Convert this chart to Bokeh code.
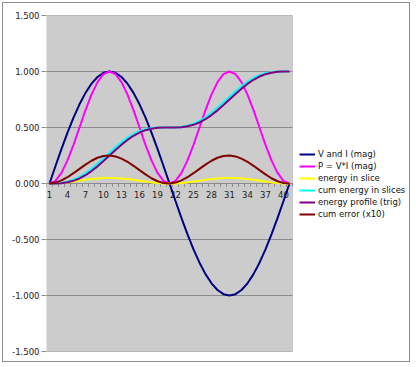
from bokeh.plotting import figure
from bokeh.models import (Legend, LegendItem, FixedTicker, NumeralTickFormatter,
                          ColumnDataSource, BoxAnnotation)
from bokeh.embed import file_html
from bokeh.resources import INLINE
from bokeh.core.properties import value

categories = list(range(1, 42))

v_and_i = [0.000, 0.156, 0.309, 0.454, 0.588, 0.707, 0.809, 0.891, 0.951, 0.988, 1.000,
           0.988, 0.951, 0.891, 0.809, 0.707, 0.588, 0.454, 0.309, 0.156, 0.000,
           -0.156, -0.309, -0.454, -0.588, -0.707, -0.809, -0.891, -0.951, -0.988, -1.000,
           -0.988, -0.951, -0.891, -0.809, -0.707, -0.588, -0.454, -0.309, -0.156, 0.000]
power = [0.000, 0.024, 0.095, 0.206, 0.345, 0.500, 0.655, 0.794, 0.905, 0.976, 1.000,
         0.976, 0.905, 0.794, 0.655, 0.500, 0.345, 0.206, 0.095, 0.024, 0.000,
         0.024, 0.095, 0.206, 0.345, 0.500, 0.655, 0.794, 0.905, 0.976, 1.000,
         0.976, 0.905, 0.794, 0.655, 0.500, 0.345, 0.206, 0.095, 0.024, 0.000]
energy_slice = [0.000, 0.001, 0.005, 0.010, 0.017, 0.025, 0.033, 0.040, 0.045, 0.049, 0.050,
                0.049, 0.045, 0.040, 0.033, 0.025, 0.017, 0.010, 0.005, 0.001, 0.000,
                0.001, 0.005, 0.010, 0.017, 0.025, 0.033, 0.040, 0.045, 0.049, 0.050,
                0.049, 0.045, 0.040, 0.033, 0.025, 0.017, 0.010, 0.005, 0.001, 0.000]
cum_energy = [0.000, 0.001, 0.006, 0.016, 0.034, 0.059, 0.091, 0.131, 0.176, 0.225, 0.275,
              0.324, 0.369, 0.409, 0.442, 0.467, 0.484, 0.494, 0.499, 0.500, 0.500,
              0.501, 0.506, 0.516, 0.534, 0.559, 0.591, 0.631, 0.676, 0.725, 0.775,
              0.824, 0.869, 0.909, 0.942, 0.967, 0.984, 0.994, 0.999, 1.000, 1.000]
energy_profile = [0.000, 0.000, 0.003, 0.011, 0.024, 0.045, 0.074, 0.111, 0.153, 0.200, 0.250,
                  0.300, 0.347, 0.389, 0.426, 0.455, 0.476, 0.489, 0.497, 0.500, 0.500,
                  0.500, 0.503, 0.511, 0.524, 0.545, 0.574, 0.611, 0.653, 0.700, 0.750,
                  0.800, 0.847, 0.889, 0.926, 0.955, 0.976, 0.989, 0.997, 1.000, 1.000]
cum_error = [0.000, 0.008, 0.028, 0.056, 0.092, 0.131, 0.169, 0.203, 0.230, 0.246, 0.250,
             0.242, 0.222, 0.194, 0.158, 0.119, 0.081, 0.047, 0.020, 0.004, 0.000,
             0.008, 0.028, 0.056, 0.092, 0.131, 0.169, 0.203, 0.230, 0.246, 0.250,
             0.242, 0.222, 0.194, 0.158, 0.119, 0.081, 0.047, 0.020, 0.004, 0.000]

series_names = ["V and I (mag)", "P = V*I (mag)", "energy in slice",
                "cum energy in slices", "energy profile (trig)", "cum error (x10)"]
series_colors = ["#000080", "#FF00FF", "#FFFF00", "#00FFFF", "#800080", "#800000"]

x_tick_positions = [1, 4, 7, 10, 13, 16, 19, 22, 25, 28, 31, 34, 37, 40]
x_tick_labels = ["1", "4", "7", "10", "13", "16", "19", "22", "25", "28", "31", "34", "37", "40"]
y_ticks = [-1.5, -1.0, -0.5, 0.0, 0.5, 1.0, 1.5]

FONT = "DejaVu Sans"
GRID = "#8c8c8c"

x_lo = categories[0] - 0.5
x_hi = categories[-1] + 0.5

# frame extends to the right to hold the legend; plot area is 0.5..41.5
p = figure(width=408, height=360, x_range=(x_lo, x_lo + 362 / 6.0), y_range=(-1.5, 1.5),
           output_backend="svg", toolbar_location=None,
           min_border_left=43, min_border_top=12, min_border_bottom=12, min_border_right=3)
p.styles = {"border": "1px solid #8c8c8c", "margin": "2px 0 0 2px"}
p.background_fill_color = "white"
p.border_fill_color = "white"
p.outline_line_color = None

p.xaxis.visible = False
p.xgrid.visible = False
p.ygrid.visible = False

yax = p.yaxis[0]
yax.ticker = FixedTicker(ticks=y_ticks)
yax.formatter = NumeralTickFormatter(format="0.000")
yax.axis_line_color = None
yax.major_tick_line_color = GRID
yax.major_tick_out = 5
yax.major_tick_in = 0
yax.minor_tick_line_color = None
yax.major_label_standoff = 2
yax.major_label_text_font = FONT
yax.major_label_text_font_size = "8.5px"
yax.major_label_text_color = "#222222"

# grey plot area
p.add_layout(BoxAnnotation(left=x_lo, right=x_hi, bottom=y_ticks[0], top=y_ticks[-1],
                           fill_color="#cccccc", fill_alpha=1.0,
                           line_color=GRID, line_width=1, level="underlay"))

# horizontal gridlines across the plot area
p.segment(x0=[x_lo] * len(y_ticks), x1=[x_hi] * len(y_ticks), y0=y_ticks, y1=y_ticks,
          line_color=GRID, line_width=1)

# category-axis at zero: tick marks between categories and labels
boundaries = [c - 0.5 for c in categories] + [x_hi]
p.segment(x0=boundaries, y0=[0] * len(boundaries), x1=boundaries,
          y1=[-0.03] * len(boundaries), line_color=GRID, line_width=1)
p.text(x=x_tick_positions, y=[0] * len(x_tick_positions), text=x_tick_labels,
       text_align="center", text_baseline="top", y_offset=7,
       text_font=value(FONT), text_font_size="8.5px", text_color="#222222")

src = ColumnDataSource(dict(x=categories, a=v_and_i, b=power, c=energy_slice,
                            d=cum_energy, e=energy_profile, f=cum_error))
items = []
for col, name, color in zip(["a", "b", "c", "d", "e", "f"], series_names, series_colors):
    r = p.line("x", col, source=src, line_color=color, line_width=2)
    items.append(LegendItem(label=name, renderers=[r]))

legend = Legend(items=items, location=(253, 131))
legend.label_text_font = FONT
legend.label_text_font_size = "8.5px"
legend.label_text_color = "#111111"
legend.glyph_width = 16
legend.glyph_height = 12
legend.label_height = 12
legend.label_standoff = 3
legend.spacing = 0
legend.padding = 0
legend.margin = 0
legend.border_line_color = None
legend.background_fill_alpha = 0
p.add_layout(legend, "center")

html = file_html(p, INLINE)
open("out.html", "w").write(html)
